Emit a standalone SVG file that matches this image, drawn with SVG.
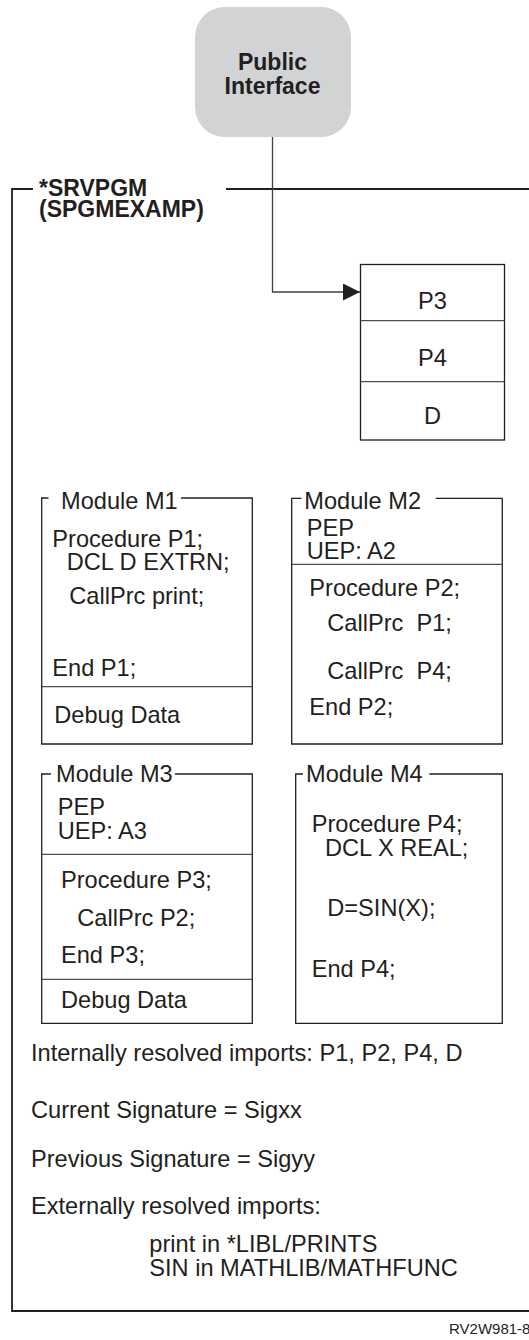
<svg xmlns="http://www.w3.org/2000/svg" width="529" height="1340" viewBox="0 0 529 1340">
<style>
text{font-family:"Liberation Sans",Arial,sans-serif;fill:#231f20}
.b{font-weight:bold;font-size:23px}
.t{font-size:23.6px}
.c{text-anchor:middle}
.box{fill:none;stroke:#231f20;stroke-width:1.3}
.div{fill:none;stroke:#4d4d4f;stroke-width:1.2}
.frame{fill:none;stroke:#231f20;stroke-width:1.8}
.conn{fill:none;stroke:#414042;stroke-width:1.3}
</style>
<defs>
<marker id="arr" markerUnits="userSpaceOnUse" markerWidth="17" markerHeight="17" refX="17" refY="8.5" orient="auto">
<path d="M0,0 L17,8.5 L0,17 z" fill="#231f20"/>
</marker>
</defs>

<g id="frame">
<path class="frame" d="M33,189 H12 V1311 H530"/>
<path class="frame" d="M226,189 H530"/>
<text class="b" x="39" y="196">*SRVPGM</text>
<text class="b" x="39" y="217">(SPGMEXAMP)</text>
</g>

<g id="public-interface">
<rect x="195" y="7" width="156" height="130" rx="30" ry="30" fill="#d1d3d4"/>
<text class="b c" x="272.5" y="70">Public</text>
<text class="b c" x="272.5" y="94">Interface</text>
</g>

<g id="connectors">
<path class="conn" d="M272.5,137 V292 H360" marker-end="url(#arr)"/>
</g>

<g id="exports">
<rect class="box" x="360.5" y="264.5" width="144" height="175.5"/>
<line class="div" x1="360.5" y1="320.7" x2="504.5" y2="320.7"/>
<line class="div" x1="360.5" y1="381.7" x2="504.5" y2="381.7"/>
<text class="t c" x="432.5" y="309">P3</text>
<text class="t c" x="432.5" y="366">P4</text>
<text class="t c" x="432.5" y="424">D</text>
</g>

<g id="module-m1">
<path class="box" d="M48.5,498 H41.7 V744 H252.3 V498 H181"/>
<line class="div" x1="41.7" y1="686.7" x2="252.3" y2="686.7"/>
<text class="t" x="61" y="509">Module M1</text>
<text class="t" x="52.3" y="546.5">Procedure P1;</text>
<text class="t" x="66.7" y="569.5">DCL D EXTRN;</text>
<text class="t" x="69.3" y="603.5">CallPrc print;</text>
<text class="t" x="52.3" y="675.5">End P1;</text>
<text class="t" x="54.3" y="722.5">Debug Data</text>
</g>

<g id="module-m2">
<path class="box" d="M301.5,498.3 H291.7 V744 H502.3 V498.3 H435.7"/>
<line class="div" x1="291.7" y1="564.3" x2="502.3" y2="564.3"/>
<text class="t" x="304.3" y="509">Module M2</text>
<text class="t" x="306.7" y="536">PEP</text>
<text class="t" x="306.7" y="559">UEP: A2</text>
<text class="t" x="309.3" y="595.5">Procedure P2;</text>
<text class="t" x="327.3" y="630.5" xml:space="preserve">CallPrc  P1;</text>
<text class="t" x="327.3" y="679" xml:space="preserve">CallPrc  P4;</text>
<text class="t" x="309.3" y="714.5">End P2;</text>
</g>

<g id="module-m3">
<path class="box" d="M51,774 H41.7 V1023.3 H252.3 V774 H175"/>
<line class="div" x1="41.7" y1="854.3" x2="252.3" y2="854.3"/>
<line class="div" x1="41.7" y1="979.3" x2="252.3" y2="979.3"/>
<text class="t" x="56" y="781.5">Module M3</text>
<text class="t" x="57.7" y="815">PEP</text>
<text class="t" x="57.7" y="838.5">UEP: A3</text>
<text class="t" x="61" y="887.5">Procedure P3;</text>
<text class="t" x="77.3" y="926">CallPrc P2;</text>
<text class="t" x="61" y="963">End P3;</text>
<text class="t" x="61" y="1008">Debug Data</text>
</g>

<g id="module-m4">
<path class="box" d="M303,774 H295.7 V1023.3 H502.3 V774 H429.3"/>
<text class="t" x="306" y="782">Module M4</text>
<text class="t" x="311.7" y="831.5">Procedure P4;</text>
<text class="t" x="325" y="855.5">DCL X REAL;</text>
<text class="t" x="327.3" y="915.5">D=SIN(X);</text>
<text class="t" x="311.7" y="976.5">End P4;</text>
</g>

<g id="summary">
<text class="t" x="31" y="1060.5">Internally resolved imports: P1, P2, P4, D</text>
<text class="t" x="31" y="1118">Current Signature = Sigxx</text>
<text class="t" x="31" y="1166.5">Previous Signature = Sigyy</text>
<text class="t" x="31" y="1214">Externally resolved imports:</text>
<text class="t" x="149.3" y="1251.5">print in *LIBL/PRINTS</text>
<text class="t" x="149.3" y="1275.5">SIN in MATHLIB/MATHFUNC</text>
</g>

<text x="449" y="1334" font-size="15" font-family="Liberation Sans, Arial, sans-serif" fill="#231f20">RV2W981-8</text>
</svg>
